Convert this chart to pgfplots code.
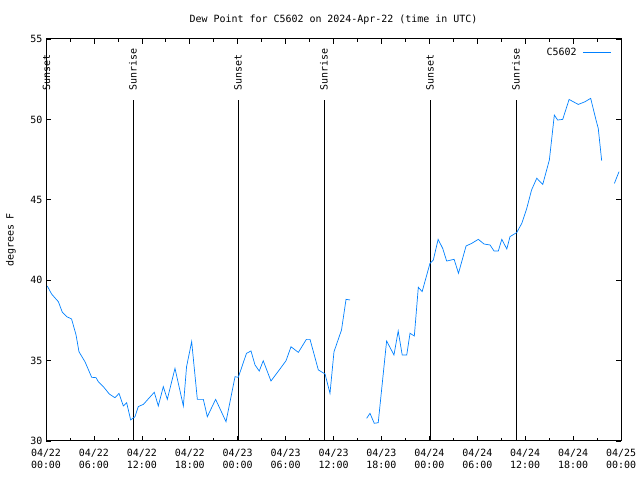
\documentclass[border=0pt]{standalone}
\usepackage{pgfplots}
\pgfplotsset{compat=1.18}
\usepackage{fontspec}
\setmainfont{DejaVu Sans Mono}
\definecolor{dewblue}{RGB}{0,128,255}
\begin{document}
\begin{tikzpicture}[x=1bp,y=1bp]
\useasboundingbox (0,0) rectangle (640,480);
\begin{axis}[
  at={(46bp,39bp)}, anchor=south west,
  scale only axis, width=575bp, height=402bp,
  xmin=0, xmax=72, ymin=30, ymax=55,
  xtick={0,6,...,72}, minor x tick num=1,
  ytick={30,35,...,55},
  xticklabels={{04/22\\00:00},{04/22\\06:00},{04/22\\12:00},{04/22\\18:00},{04/23\\00:00},{04/23\\06:00},{04/23\\12:00},{04/23\\18:00},{04/24\\00:00},{04/24\\06:00},{04/24\\12:00},{04/24\\18:00},{04/25\\00:00}},
  xticklabel style={align=center, font=\fontsize{10}{12}\selectfont, yshift=-5bp},
  yticklabel style={font=\fontsize{10}{12}\selectfont},
  /pgf/number format/assume math mode=true,
  major tick length=5bp, minor tick length=3bp,
  tick style={black, line width=0.6pt},
  axis line style={line width=1pt},
  title={Dew Point for C5602 on 2024-Apr-22 (time in UTC)},
  title style={font=\fontsize{10}{12}\selectfont, at={(0.5,1)}, yshift=5bp},
  ylabel={degrees F},
  ylabel style={font=\fontsize{10}{12}\selectfont},
  every axis y label/.append style={at={(ticklabel cs:0.5)}, yshift=8bp},
  legend style={draw=none, fill=none, at={(0.985,0.985)}, anchor=north east, font=\fontsize{10}{12}\selectfont, inner sep=1pt, column sep=3bp},
  legend plot pos=right, legend cell align=right,
  legend image code/.code={\draw[#1] (0bp,0bp) -- (28bp,0bp);},
  unbounded coords=jump,
  clip=false,
]
% sunrise/sunset lines
\addplot[black, line width=0.8pt, forget plot] coordinates {(0.05,30) (0.05,51.2)};
\addplot[black, line width=0.8pt, forget plot] coordinates {(10.89,30) (10.89,51.2)};
\addplot[black, line width=0.8pt, forget plot] coordinates {(24.04,30) (24.04,51.2)};
\addplot[black, line width=0.8pt, forget plot] coordinates {(34.81,30) (34.81,51.2)};
\addplot[black, line width=0.8pt, forget plot] coordinates {(48.08,30) (48.08,51.2)};
\addplot[black, line width=0.8pt, forget plot] coordinates {(58.85,30) (58.85,51.2)};
\node[rotate=90, anchor=west, font=\fontsize{10}{12}\selectfont, inner sep=0pt, xshift=1.5bp] at (axis cs:0.05,51.7) {Sunset};
\node[rotate=90, anchor=west, font=\fontsize{10}{12}\selectfont, inner sep=0pt, xshift=1.5bp] at (axis cs:10.89,51.7) {Sunrise};
\node[rotate=90, anchor=west, font=\fontsize{10}{12}\selectfont, inner sep=0pt, xshift=1.5bp] at (axis cs:24.04,51.7) {Sunset};
\node[rotate=90, anchor=west, font=\fontsize{10}{12}\selectfont, inner sep=0pt, xshift=1.5bp] at (axis cs:34.81,51.7) {Sunrise};
\node[rotate=90, anchor=west, font=\fontsize{10}{12}\selectfont, inner sep=0pt, xshift=1.5bp] at (axis cs:48.08,51.7) {Sunset};
\node[rotate=90, anchor=west, font=\fontsize{10}{12}\selectfont, inner sep=0pt, xshift=1.5bp] at (axis cs:58.85,51.7) {Sunrise};
\addplot[dewblue, line width=0.7pt] coordinates {
(0.16,39.64) (0.7,39.14) (1.55,38.66) (2.05,38.0) (2.6,37.73) (3.2,37.59)
(3.76,36.6) (4.13,35.55) (4.88,34.93) (5.72,33.96) (6.26,33.94) (6.55,33.69)
(7.18,33.38) (7.93,32.92) (8.64,32.69) (9.14,32.96) (9.68,32.18) (10.1,32.38)
(10.6,31.31) (11.14,31.51) (11.56,32.14) (12.2,32.28) (12.94,32.69) (13.56,33.03)
(14.06,32.18) (14.69,33.38) (15.19,32.59) (16.15,34.52) (17.2,32.18) (17.6,34.62)
(18.24,36.18) (18.95,32.59) (19.7,32.59) (20.2,31.51) (21.24,32.59) (22.54,31.2)
(23.67,34.0) (24.08,33.96) (25.1,35.45) (25.67,35.6) (26.17,34.73) (26.7,34.35)
(27.2,34.99) (28.17,33.73) (29.3,34.48) (30.05,34.99) (30.68,35.86) (31.6,35.51)
(32.6,36.32) (33.06,36.32) (34.1,34.42) (34.94,34.17) (35.56,32.96) (36.06,35.55)
(37.0,36.9) (37.57,38.81) (38.07,38.77)
(39.0,nan)
(40.15,31.41) (40.57,31.72) (41.1,31.1) (41.6,31.14) (42.65,36.22) (43.57,35.35)
(44.1,36.84) (44.6,35.35) (45.17,35.35) (45.58,36.7) (46.12,36.53) (46.62,39.56)
(47.1,39.29) (48.08,41.05) (48.5,41.26) (49.1,42.54) (49.67,41.98) (50.17,41.19)
(51.1,41.3) (51.65,40.43) (52.6,42.13) (53.3,42.29) (54.13,42.54) (54.85,42.25)
(55.6,42.19) (56.1,41.82) (56.64,41.82) (57.07,42.54) (57.7,41.94) (58.1,42.71)
(58.94,42.96) (59.57,43.53) (60.2,44.47) (60.8,45.61) (61.45,46.34) (62.2,45.96)
(63.03,47.48) (63.65,50.27) (64.07,49.96) (64.7,50.0) (65.5,51.24) (66.65,50.93)
(67.5,51.1) (68.2,51.31) (68.87,49.96) (69.15,49.44) (69.37,48.41) (69.58,47.43)
(70.3,nan)
(71.17,46.02) (71.75,46.75)
};
\addlegendentry{C5602\rule{1bp}{0pt}}
\end{axis}
\end{tikzpicture}
\end{document}
